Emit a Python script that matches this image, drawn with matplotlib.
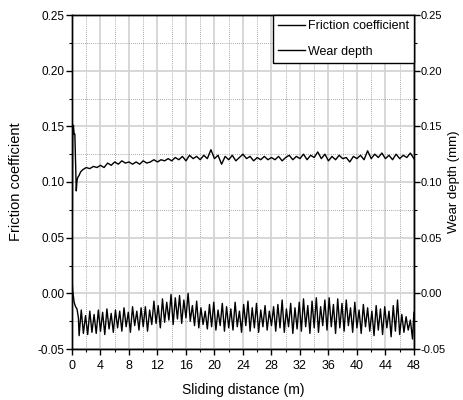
import matplotlib
matplotlib.use("Agg")
import matplotlib.pyplot as plt
import numpy as np
from matplotlib.ticker import MultipleLocator

# friction coefficient vs sliding distance (m)
fric_x = [0.0, 0.1, 0.2, 0.3, 0.4, 0.5, 0.6, 0.7, 0.8, 1.0, 1.2] + list(np.arange(1.5, 48.01, 0.5))
fric_y = [0.000, 0.140, 0.151, 0.143, 0.143, 0.118, 0.092, 0.101, 0.104, 0.106, 0.109,
          0.111, 0.113, 0.112, 0.114, 0.113, 0.115, 0.113, 0.117, 0.115, 0.118,
          0.116, 0.119, 0.117, 0.118, 0.116, 0.118, 0.116, 0.119, 0.117, 0.118,
          0.120, 0.118, 0.120, 0.119, 0.121, 0.119, 0.122, 0.120, 0.123, 0.119,
          0.124, 0.121, 0.123, 0.120, 0.124, 0.121, 0.129, 0.121, 0.124, 0.116,
          0.123, 0.120, 0.124, 0.119, 0.122, 0.125, 0.121, 0.123, 0.119, 0.122,
          0.120, 0.123, 0.120, 0.122, 0.120, 0.123, 0.119, 0.122, 0.124, 0.120,
          0.123, 0.121, 0.125, 0.120, 0.124, 0.122, 0.127, 0.121, 0.125, 0.119,
          0.123, 0.120, 0.124, 0.121, 0.122, 0.118, 0.123, 0.121, 0.124, 0.120,
          0.128, 0.121, 0.125, 0.122, 0.126, 0.121, 0.124, 0.120, 0.125, 0.121,
          0.124, 0.122, 0.126, 0.121]

# wear depth (mm) vs sliding distance (m)
wear_x = [0.0, 0.1, 0.3, 0.5, 0.7, 0.9] + list(np.arange(1.0, 47.81, 0.3)) + [48.0]
wear_y = [0.013, 0.002, -0.008, -0.012, -0.014, -0.022,
          -0.038, -0.015, -0.036, -0.020, -0.037, -0.016, -0.035, -0.019, -0.036, -0.015,
          -0.034, -0.017, -0.037, -0.014, -0.032, -0.018, -0.035, -0.015, -0.031, -0.016,
          -0.034, -0.013, -0.030, -0.017, -0.035, -0.012, -0.029, -0.016, -0.033, -0.013,
          -0.030, -0.012, -0.034, -0.015, -0.028, -0.007, -0.027, -0.011, -0.031, -0.005,
          -0.026, -0.008, -0.024, -0.001, -0.028, -0.004, -0.023, -0.002, -0.027, -0.006,
          -0.022, 0.000, -0.025, -0.011, -0.029, -0.007, -0.031, -0.013, -0.028, -0.016,
          -0.032, -0.010, -0.030, -0.008, -0.033, -0.015, -0.029, -0.009, -0.034, -0.012,
          -0.031, -0.014, -0.033, -0.008, -0.030, -0.016, -0.035, -0.010, -0.029, -0.007,
          -0.034, -0.013, -0.031, -0.009, -0.035, -0.015, -0.030, -0.011, -0.033, -0.016,
          -0.029, -0.012, -0.034, -0.010, -0.031, -0.006, -0.035, -0.014, -0.030, -0.009,
          -0.036, -0.013, -0.032, -0.008, -0.034, -0.005, -0.030, -0.011, -0.036, -0.007,
          -0.031, -0.004, -0.035, -0.012, -0.029, -0.006, -0.033, -0.004, -0.030, -0.010,
          -0.036, -0.005, -0.031, -0.009, -0.034, -0.006, -0.029, -0.013, -0.035, -0.008,
          -0.031, -0.015, -0.036, -0.010, -0.030, -0.013, -0.034, -0.016, -0.038, -0.011,
          -0.033, -0.014, -0.037, -0.012, -0.031, -0.016, -0.039, -0.011, -0.034, -0.006,
          -0.037, -0.019, -0.035, -0.021, -0.033, -0.024, -0.041,
          -0.017]

font = ["Liberation Sans", "DejaVu Sans"]

fig = plt.figure(figsize=(4.63, 4.0), dpi=100)
ax = fig.add_axes([0.1555, 0.1275, 0.7385, 0.835])
ax2 = ax.twinx()

l1, = ax.plot(fric_x, fric_y, color="black", lw=1.0)
l2, = ax2.plot(wear_x, wear_y, color="black", lw=1.0)

for a in (ax, ax2):
    a.set_xlim(0, 48)
    a.set_ylim(-0.05, 0.25)
    a.yaxis.set_major_locator(MultipleLocator(0.05))
    a.yaxis.set_minor_locator(MultipleLocator(0.025))
    a.tick_params(which="major", direction="out", length=4, width=1, labelsize=8.5, pad=1.5)
    a.tick_params(which="minor", direction="out", length=2.5, width=0.8)
    a.yaxis.set_major_formatter(plt.FuncFormatter(lambda v, p: f"{v:.2f}"))
    for lab in a.get_yticklabels():
        lab.set_family(font)
    for s in a.spines.values():
        s.set_linewidth(1.0)
ax2.tick_params(which="major", labelsize=8, pad=1)

ax.xaxis.set_major_locator(MultipleLocator(4))
ax.xaxis.set_minor_locator(MultipleLocator(2))
ax.tick_params(axis="x", which="major", labelsize=9, pad=4)
for lab in ax.get_xticklabels():
    lab.set_family(font)

ax.grid(which="major", color="#d4d4d4", lw=1.3, ls="-")
ax.grid(which="minor", color="#8c8c8c", lw=0.6, ls=(0, (1, 1.5)))
ax.set_axisbelow(True)

ax.set_xlabel("Sliding distance (m)", family=font, fontsize=10, labelpad=8)
ax.set_ylabel("Friction coefficient", family=font, fontsize=10.5, labelpad=10)
ax2.set_ylabel("Wear depth (mm)", family=font, fontsize=9.5, labelpad=1.5)

leg = ax2.legend([l1, l2], ["Friction coefficient", "Wear depth"], loc="upper right",
                 bbox_to_anchor=(1, 1), borderaxespad=0, fancybox=False,
                 edgecolor="black", framealpha=1, prop={"family": font, "size": 9},
                 borderpad=0.4, labelspacing=1.1, handlelength=2.2, handletextpad=0.2)
leg.get_frame().set_linewidth(1.0)

fig.savefig("out.png", dpi=100)
